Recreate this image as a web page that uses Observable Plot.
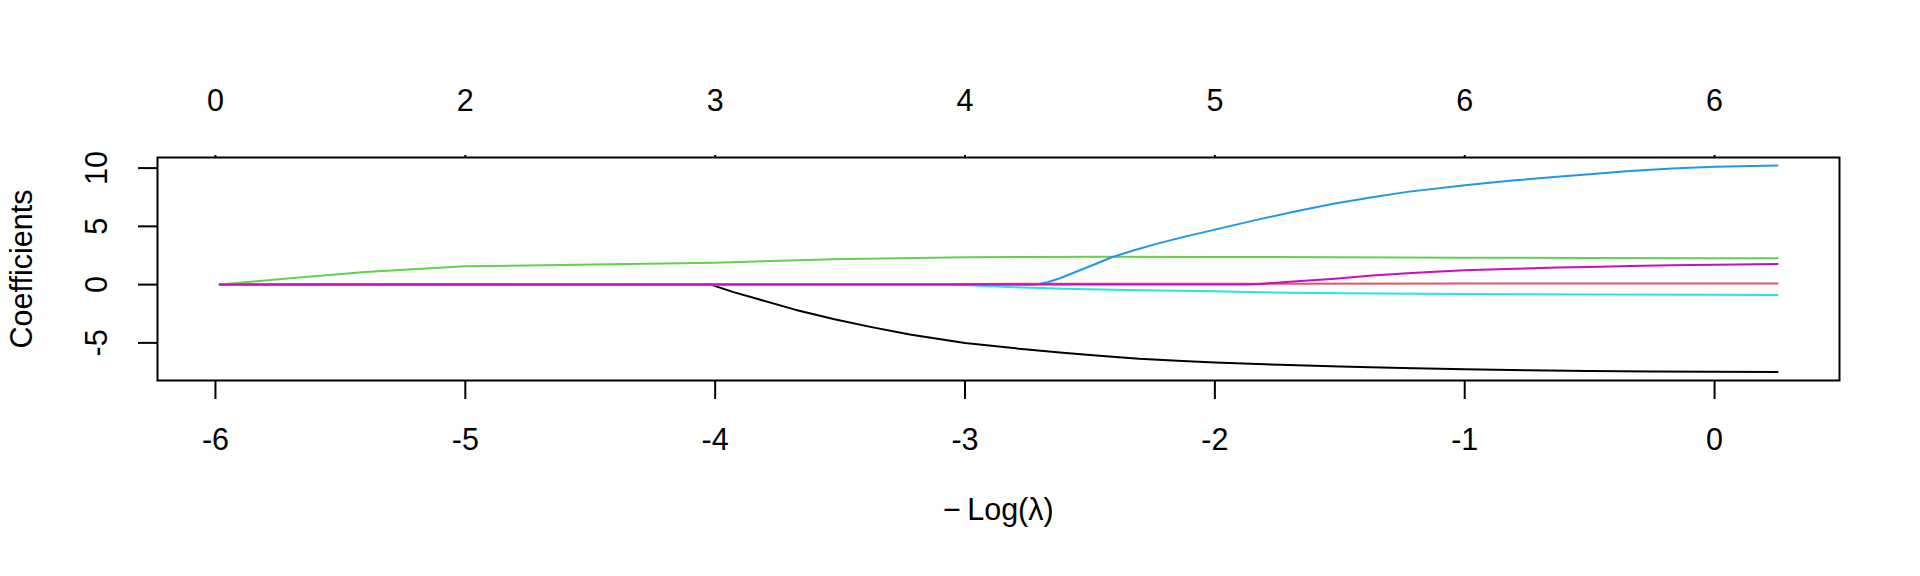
<!DOCTYPE html>
<html>
<head>
<meta charset="utf-8">
<script src="https://cdn.jsdelivr.net/npm/d3@7"></script>
<script src="https://cdn.jsdelivr.net/npm/@observablehq/plot@0.6"></script>
<style>
  html, body { margin: 0; padding: 0; background: #ffffff; overflow: hidden; }
  #chart svg { display: block; }
</style>
</head>
<body>
<div id="chart"></div>
<script>
// Axis ticks and labels
const xTicks = [-6, -5, -4, -3, -2, -1, 0];
const topLabels = ["0", "2", "3", "4", "5", "6", "6"];
const yTicks = [-5, 0, 5, 10];

// Coefficient paths (x = -Log(lambda), y = coefficient)
const v1x = [-5.983, -4.017, -3.93, -3.833, -3.68, -3.527, -3.374, -3.221, -3.0, -2.762, -2.609, -2.45, -2.303, -2.15, -2.0, -1.74, -1.5, -1.25, -1.0, -0.75, -0.5, -0.25, 0, 0.252];
const v1y = [0, 0, -0.62, -1.22, -2.15, -2.95, -3.65, -4.28, -5.02, -5.55, -5.85, -6.12, -6.37, -6.54, -6.68, -6.88, -7.02, -7.16, -7.27, -7.35, -7.41, -7.45, -7.48, -7.51];

const v2x = [-5.983, -5.5, -5.0, -4.0, -3.0, -2.0, -1.0, 0, 0.252];
const v2y = [0, 0.01, 0.02, 0.04, 0.06, 0.08, 0.10, 0.10, 0.10];

const v3x = [-5.983, -5.69, -5.40, -5.0, -4.55, -4.0, -3.53, -3.0, -2.46, -2.0, -1.5, -1.0, -0.5, 0, 0.252];
const v3y = [0, 0.57, 1.09, 1.57, 1.71, 1.88, 2.17, 2.34, 2.40, 2.38, 2.35, 2.31, 2.29, 2.27, 2.26];

const v4x = [-5.983, -2.72, -2.67, -2.62, -2.55, -2.48, -2.41, -2.32, -2.23, -2.12, -2.0, -1.82, -1.67, -1.52, -1.37, -1.23, -1.0, -0.8, -0.63, -0.5, -0.34, -0.17, 0, 0.252];
const v4y = [0, 0, 0.2, 0.55, 1.15, 1.75, 2.37, 2.97, 3.52, 4.12, 4.72, 5.62, 6.32, 6.96, 7.5, 7.96, 8.53, 8.95, 9.25, 9.47, 9.76, 9.96, 10.11, 10.22];

const v5x = [-5.983, -3.06, -2.8, -2.61, -2.3, -2.0, -1.82, -1.5, -1.0, -0.5, 0, 0.252];
const v5y = [0, 0, -0.22, -0.35, -0.48, -0.58, -0.66, -0.74, -0.81, -0.85, -0.88, -0.89];

const v6x = [-5.983, -1.88, -1.82, -1.7, -1.52, -1.37, -1.23, -1.1, -1.0, -0.8, -0.63, -0.5, -0.34, -0.17, 0, 0.252];
const v6y = [0, 0, 0.05, 0.25, 0.51, 0.78, 0.98, 1.13, 1.23, 1.36, 1.46, 1.52, 1.60, 1.66, 1.71, 1.77];

const seriesX = [v1x, v2x, v3x, v4x, v5x, v6x];
const seriesY = [v1y, v2y, v3y, v4y, v5y, v6y];
const colors = ["#000000", "#DF536B", "#61D04F", "#2297E6", "#28E2E5", "#CD0BBC"];

const lineMarks = seriesX.map((xs, k) =>
  Plot.line(xs.map((x, i) => ({x, y: seriesY[k][i]})), {
    x: "x", y: "y", stroke: colors[k], strokeWidth: 2
  })
);

const FS = 30.5;

const chart = Plot.plot({
  width: 1920,
  height: 576,
  marginLeft: 157,
  marginRight: 81,
  marginTop: 157,
  marginBottom: 196,
  x: {domain: [-6.232, 0.5]},
  y: {domain: [-8.23, 10.91]},
  style: {fontFamily: "'Liberation Sans', Arial, sans-serif", fontSize: FS + "px", background: "#ffffff", color: "#000000"},
  marks: [
    ...lineMarks,
    Plot.frame({stroke: "#000000", strokeWidth: 2}),
    Plot.axisX(xTicks, {anchor: "bottom", tickSize: 19, tickFormat: () => "", strokeWidth: 2, label: null}),
    Plot.axisX(xTicks, {anchor: "top", tickSize: 3, tickFormat: () => "", strokeWidth: 2, label: null}),
    Plot.axisY(yTicks, {anchor: "left", tickSize: 19, tickFormat: () => "", strokeWidth: 2, label: null}),
    Plot.text(xTicks, {x: d => d, frameAnchor: "bottom", dy: 60, text: d => String(d), lineAnchor: "middle", fontSize: FS, fill: "#000000"}),
    Plot.text(xTicks, {x: d => d, frameAnchor: "top", dy: -56, text: d => topLabels[xTicks.indexOf(d)], lineAnchor: "middle", fontSize: FS, fill: "#000000"}),
    Plot.text(yTicks, {y: d => d, frameAnchor: "left", dx: -60, rotate: -90, text: d => String(d), lineAnchor: "middle", textAnchor: "middle", fontSize: FS, fill: "#000000"}),
    Plot.text(["Coefficients"], {frameAnchor: "left", dx: -135, rotate: -90, text: d => d, lineAnchor: "middle", textAnchor: "middle", fontSize: FS, fill: "#000000"}),
    Plot.text(["\u2212\u2009Log(\u03BB)"], {frameAnchor: "bottom", dy: 130, text: d => d, lineAnchor: "middle", textAnchor: "middle", fontSize: FS, fill: "#000000"})
  ]
});

document.getElementById("chart").appendChild(chart);
</script>
</body>
</html>
